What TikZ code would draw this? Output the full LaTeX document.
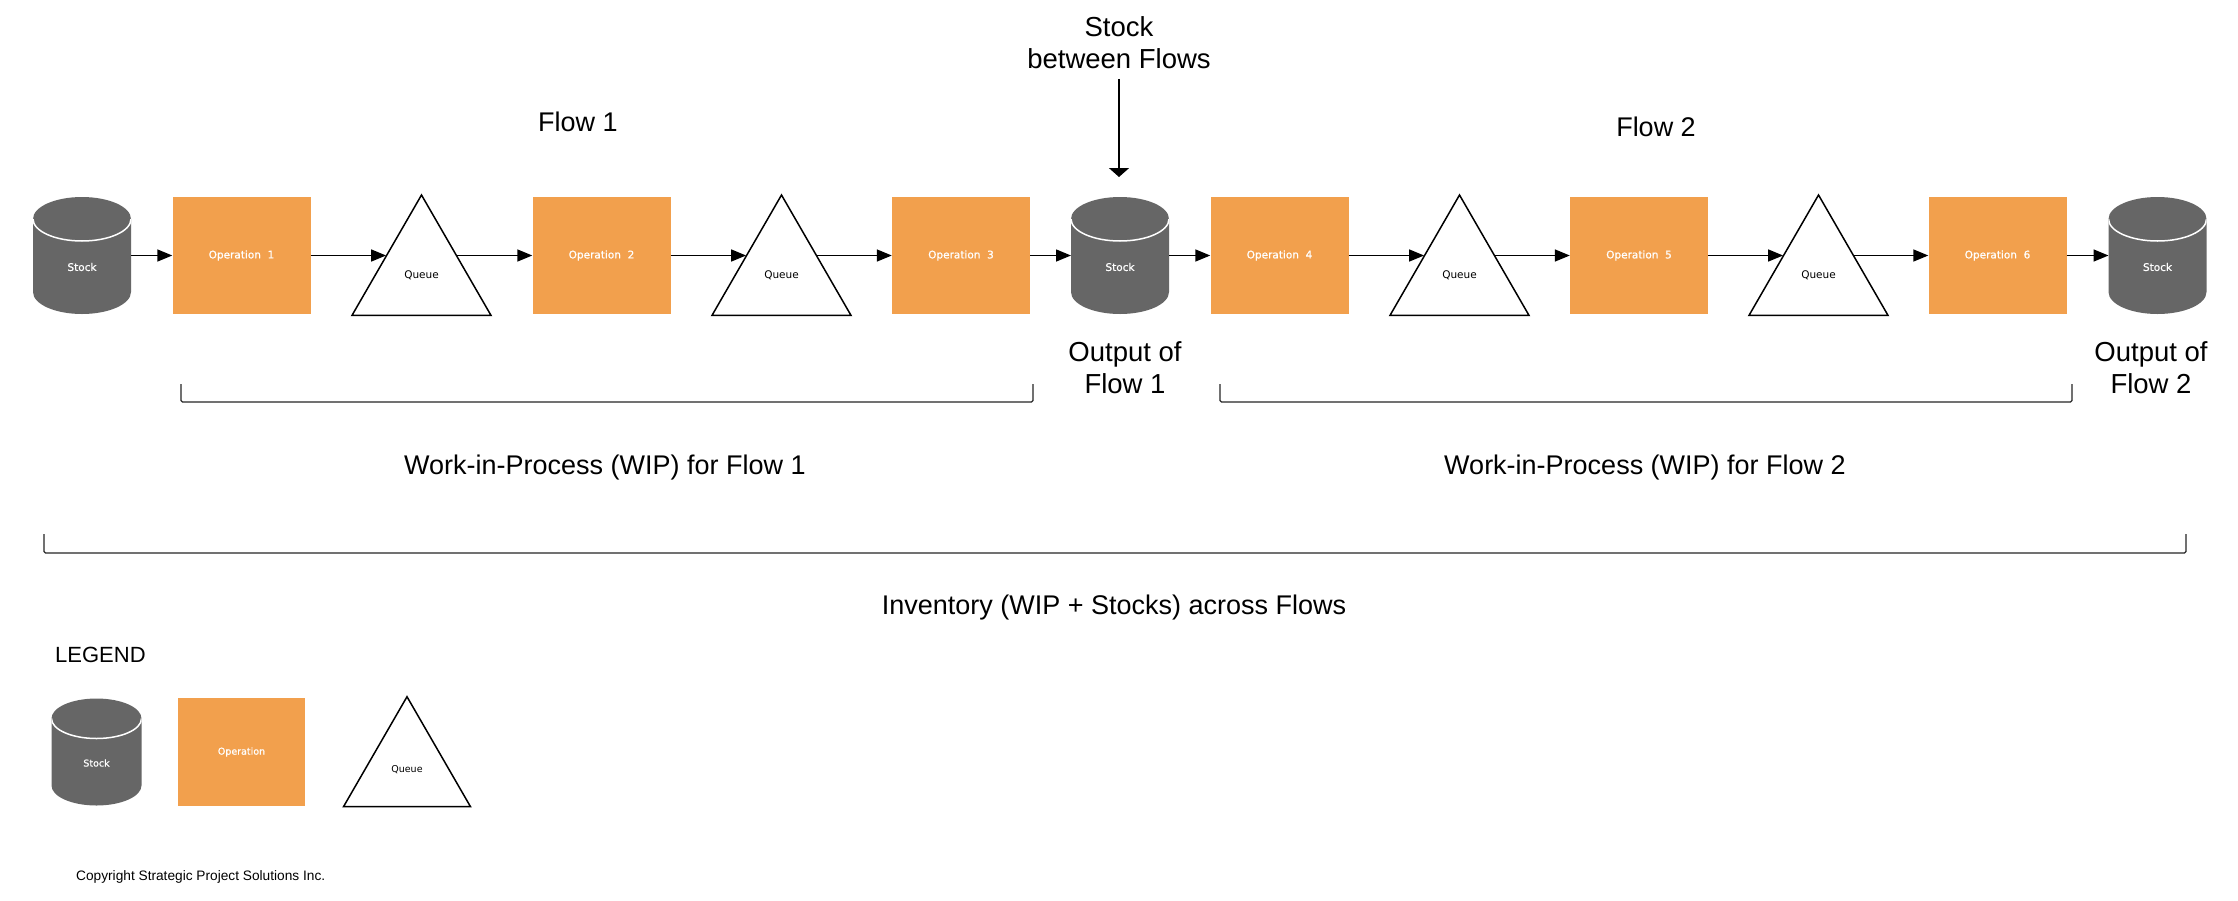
\documentclass[tikz,border=0pt]{standalone}
\usepackage{fontspec}
\setmainfont{Liberation Sans}
\newfontfamily\shapefont{DejaVu Sans}
\newfontfamily\whitefont{DejaVu Sans}[FakeBold=0.8]
\usetikzlibrary{arrows.meta,shapes.geometric,calc}
\definecolor{opor}{HTML}{F2A04D}
\definecolor{stockgray}{HTML}{666666}
\begin{document}
\begin{tikzpicture}[x=1pt,y=-1pt,
  op/.style={rectangle, fill=opor, minimum width=138pt, minimum height=117pt, inner sep=0pt, text=white, font=\whitefont\fontsize{10.5}{12}\selectfont},
  stock/.style n args={3}{rectangle, minimum width=#1pt, minimum height=#2pt, inner sep=0pt, outer sep=0pt,
    path picture={
      \fill[stockgray] ([yshift=-#3pt]path picture bounding box.north west)
        arc[start angle=180,end angle=0,x radius=#1pt/2,y radius=#3pt]
        -- ([yshift=#3pt]path picture bounding box.south east)
        arc[start angle=0,end angle=-180,x radius=#1pt/2,y radius=#3pt] -- cycle;
      \draw[white,line width=1.5pt] ([yshift=-#3pt]path picture bounding box.north west)
        arc[start angle=180,end angle=360,x radius=#1pt/2,y radius=#3pt];}},
  stocklbl/.style={text=white, inner sep=0pt, font=\whitefont\fontsize{10.5}{12}\selectfont},
  queue/.style={regular polygon, regular polygon sides=3, draw=black, line width=1.5pt, fill=white, minimum size=160.5pt, inner sep=0pt, font=\shapefont\fontsize{10.5}{12}\selectfont},
  arr/.style={-{Triangle[length=15pt,width=12pt]}, line width=1.5pt, draw=black},
  varr/.style={-{Triangle[length=9pt,width=20pt]}, line width=1.5pt, draw=black},
  bigtxt/.style={font=\fontsize{27.5}{32}\selectfont, align=center, inner sep=0pt},
  brk/.style={line width=1.3pt, draw=black!85, rounded corners=1.5pt}
]
\useasboundingbox (0,0) rectangle (2238,900);
\fill[white] (0,0) rectangle (2238,900);

% main row
\node[stock={98}{117}{22}] (s1) at (82,255.5) {};
\node[stocklbl] (s1t) at ([yshift=-11.5pt]s1.center) {Stock};
\node[op] (o1) at (241.5,255.5) {Operation\ \ 1};
\node[queue] (q1) at (421.5,275.25) {Queue};
\node[op] (o2) at (601.5,255.5) {Operation\ \ 2};
\node[queue] (q2) at (781.5,275.25) {Queue};
\node[op] (o3) at (961,255.5) {Operation\ \ 3};
\node[stock={98}{117}{22}] (s2) at (1120,255.5) {};
\node[stocklbl] (s2t) at ([yshift=-11.5pt]s2.center) {Stock};
\node[op] (o4) at (1279.5,255.5) {Operation\ \ 4};
\node[queue] (q3) at (1459.5,275.25) {Queue};
\node[op] (o5) at (1639,255.5) {Operation\ \ 5};
\node[queue] (q4) at (1818.5,275.25) {Queue};
\node[op] (o6) at (1997.5,255.5) {Operation\ \ 6};
\node[stock={98}{117}{22}] (s3) at (2157.5,255.5) {};
\node[stocklbl] (s3t) at ([yshift=-11.5pt]s3.center) {Stock};

\draw[arr] (s1.east) -- (o1.west);
\draw[arr] (o1.east) -- (o1.east -| q1.150.5);
\draw[arr] (o2.west -| q1.29.5) -- (o2.west);
\draw[arr] (o2.east) -- (o2.east -| q2.150.5);
\draw[arr] (o3.west -| q2.29.5) -- (o3.west);
\draw[arr] (o3.east) -- (s2.west);
\draw[arr] (s2.east) -- (o4.west);
\draw[arr] (o4.east) -- (o4.east -| q3.150.5);
\draw[arr] (o5.west -| q3.29.5) -- (o5.west);
\draw[arr] (o5.east) -- (o5.east -| q4.150.5);
\draw[arr] (o6.west -| q4.29.5) -- (o6.west);
\draw[arr] (o6.east) -- (s3.west);

% labels
\node[bigtxt] (sbf) at (1119,42.5) {Stock\\between Flows};
\draw[varr, shorten <=10pt, shorten >=20pt] (sbf.south) -- (sbf.south |- s2.north);
\node[bigtxt, font=\fontsize{27}{32}\selectfont] (f1) at (578,122) {Flow 1};
\node[bigtxt, font=\fontsize{27}{32}\selectfont] (f2) at (1656,127) {Flow 2};
\node[bigtxt] (out1) at (1125,368) {Output of\\Flow 1};
\node[bigtxt] (out2) at (2151,368) {Output of\\Flow 2};
\node[bigtxt, font=\fontsize{27}{32}\selectfont] (wip1) at (605,468) {Work-in-Process (WIP) for Flow 1};
\node[bigtxt, font=\fontsize{27}{32}\selectfont] (wip2) at (1645,468) {Work-in-Process (WIP) for Flow 2};
\node[bigtxt, font=\fontsize{27}{32}\selectfont] (inv) at (1114,608) {Inventory (WIP + Stocks) across Flows};

% brackets
\draw[brk] (181,384) -- (181,402) -- (1033,402) -- (1033,384);
\draw[brk] (1220,384) -- (1220,402) -- (2072,402) -- (2072,384);
\draw[brk] (44,534) -- (44,553) -- (2186,553) -- (2186,534);

% legend
\node[anchor=west, inner sep=0pt, font=\fontsize{22}{26}\selectfont] (leg) at (55,655) {LEGEND};
\node[stock={90}{107}{20}] (ls) at (96.5,752) {};
\node[stocklbl, font=\whitefont\fontsize{9.5}{11}\selectfont] (lst) at ([yshift=-11pt]ls.center) {Stock};
\node[op, minimum width=127pt, minimum height=108pt, font=\whitefont\fontsize{9.5}{11}\selectfont] (lo) at (241.5,752) {Operation};
\node[queue, minimum size=146.6pt, font=\shapefont\fontsize{9.5}{11}\selectfont] (lq) at (407,770) {Queue};
\node[anchor=west, inner sep=0pt, font=\fontsize{13.7}{16}\selectfont] (copy) at (76,877) {Copyright Strategic Project Solutions Inc.};
\end{tikzpicture}
\end{document}
